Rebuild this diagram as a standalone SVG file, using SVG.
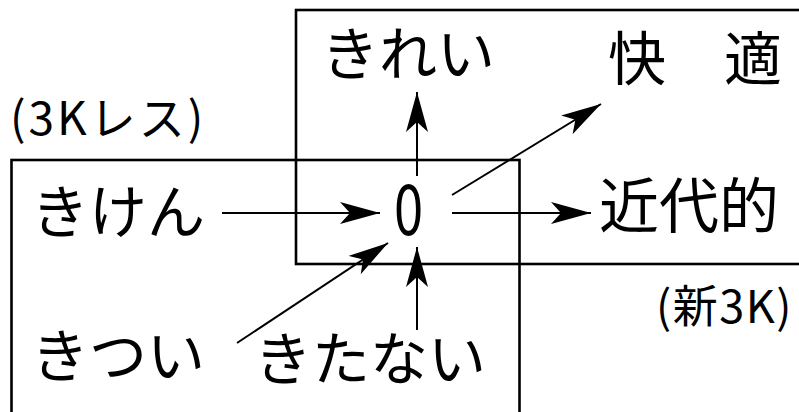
<svg xmlns="http://www.w3.org/2000/svg" width="799" height="412" viewBox="0 0 799 412">
<style>
.box{fill:none;stroke:#000;stroke-width:2.6}
.ln{fill:none;stroke:#000;stroke-width:2;marker-end:url(#ah)}
.t{font-family:"Noto Sans CJK JP","Noto Sans",sans-serif;fill:#000}
.big{font-size:58px}
.mid{font-size:46px;letter-spacing:3px}
</style>
<defs>
<marker id="ah" markerUnits="userSpaceOnUse" markerWidth="42" markerHeight="24" refX="40" refY="11" orient="auto" viewBox="0 0 42 24">
<path d="M0,0 L40,11 L0,22 L10,11 Z" fill="#000"/>
</marker>
</defs>
<rect width="799" height="412" fill="#fff"/>
<g id="frame-new3k"><rect class="box" x="296" y="10" width="540" height="254"/></g>
<g id="frame-3kless"><rect class="box" x="11.5" y="160" width="508" height="290"/></g>
<g id="label-3kless"><text class="t mid" x="10" y="135">(3Kレス)</text></g>
<g id="label-new3k"><text class="t" font-size="45" letter-spacing="1.5" x="656" y="323">(新3K)</text></g>
<g id="node-kirei"><text class="t big" x="321" y="75">きれい</text></g>
<g id="node-kaiteki"><text class="t big" x="608" y="80">快　適</text></g>
<g id="node-kindaiteki"><text class="t" font-size="60" x="599" y="228">近代的</text></g>
<g id="node-kiken"><text class="t big" x="31" y="233">きけん</text></g>
<g id="node-zero"><text class="t" font-family="Liberation Sans" font-size="70" transform="translate(394,235) scale(0.75,1)">0</text></g>
<g id="node-kitsui"><text class="t big" x="31" y="377">きつい</text></g>
<g id="node-kitanai"><text class="t big" x="254" y="380">きたない</text></g>
<g id="connectors">
<line class="ln" x1="222" y1="213" x2="380" y2="213"/>
<line class="ln" x1="452" y1="213" x2="591" y2="213"/>
<line class="ln" x1="417" y1="176" x2="417" y2="92"/>
<line class="ln" x1="452" y1="195" x2="601" y2="104"/>
<line class="ln" x1="237" y1="343" x2="388" y2="243"/>
<line class="ln" x1="417" y1="330" x2="417" y2="247"/>
</g>
</svg>
